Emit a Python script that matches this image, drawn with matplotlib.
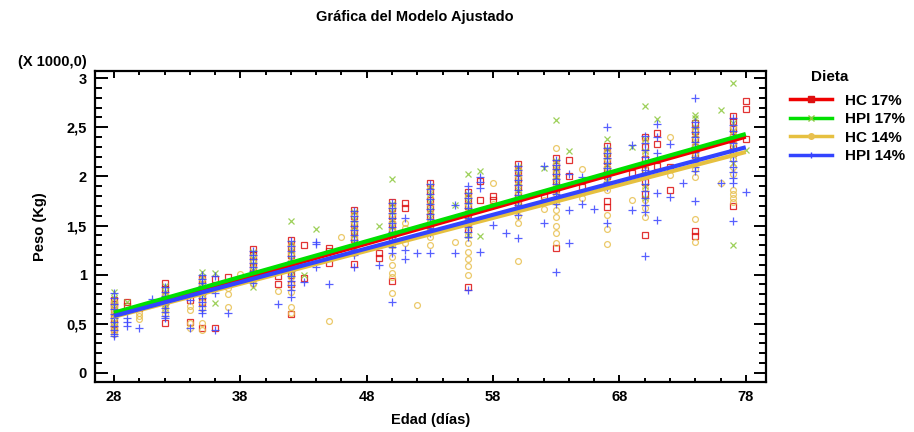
import matplotlib
matplotlib.use("Agg")
import matplotlib.pyplot as plt
from matplotlib.lines import Line2D
from matplotlib.ticker import MultipleLocator, FuncFormatter

plt.rcParams['font.family'] = ['Liberation Sans', 'DejaVu Sans']
plt.rcParams['font.weight'] = 'bold'

# ---------------- data (weights in g) ----------------
hc17_dias = [28, 29, 30, 32, 34, 35, 36, 37, 39, 41, 42, 43, 45, 47, 49, 50, 51, 53, 56, 57, 58, 60,
             62, 63, 64, 65, 67, 69, 70, 71, 72, 74, 77, 78]
hc17_pesos = [[740, 700, 680, 620, 560, 500, 450], [719, 685], [661], [915, 850, 780, 720, 509],
              [743, 522], [953, 900, 840, 780, 720, 458], [953, 455], [980],
              [1258, 1200, 1140, 1080, 1020], [987, 902], [1353, 1280, 1200, 1100, 1000, 900, 597],
              [1302, 970], [1270, 1240, 1116], [1658, 1600, 1520, 1440, 1360, 1109], [1217, 1167],
              [1743, 1680, 1600, 1520, 1440, 1360, 936], [1726, 1675],
              [1929, 1850, 1760, 1680, 1600, 1500], [1844, 1770, 1700, 1620, 1540, 1460, 872],
              [1956, 1760], [1801, 1760], [2126, 2050, 1970, 1890, 1810, 1730], [1801],
              [2184, 2110, 2030, 1950, 1870, 1275], [2167, 2004], [1895],
              [2309, 2240, 2160, 2080, 2000, 1750, 1692], [2031],
              [2400, 2300, 2180, 2060, 1940, 1820, 1404], [2438, 2326, 2106], [2099, 1862],
              [2540, 2460, 2380, 2300, 2220, 1445, 1394], [2610, 2560, 2480, 2400, 2320, 2240, 1699],
              [2767, 2682, 2380]]

hpi17_dias = [28, 29, 32, 35, 36, 39, 42, 43, 44, 47, 49, 50, 53, 55, 56, 57, 60, 62, 63, 64, 67,
              69, 70, 71, 74, 76, 77, 78]
hpi17_pesos = [[824, 760, 700, 640, 580, 520, 470], [719], [880, 820, 760, 700, 660],
               [1030, 980, 920, 860, 800], [1020, 709], [1230, 1170, 1110, 1050, 990, 878],
               [1549, 1320, 1240, 1160, 1080, 1000], [997], [1461],
               [1640, 1560, 1480, 1400, 1320, 1250], [1499],
               [1973, 1720, 1640, 1560, 1480, 1400, 1300], [1900, 1820, 1740, 1660, 1580, 1480],
               [1709], [2024, 1820, 1740, 1660, 1580, 1500, 1400], [2058, 1397],
               [2100, 2020, 1940, 1860, 1780, 1700], [2090], [2574, 2160, 2080, 2000, 1920, 1840],
               [2254], [2377, 2280, 2200, 2120, 2040, 1960], [2300],
               [2719, 2380, 2260, 2140, 2020, 1900, 1780], [2584],
               [2625, 2594, 2500, 2420, 2340, 2260, 2180], [2675],
               [2947, 2540, 2460, 2380, 2300, 2220, 2140, 1302], [2268]]

hc14_dias = [28, 30, 32, 34, 35, 37, 38, 39, 41, 42, 45, 46, 47, 50, 51, 52, 53, 55, 56, 58, 60,
             62, 63, 65, 67, 69, 70, 72, 74, 76, 77]
hc14_pesos = [[720, 680, 640, 600, 560, 510, 470, 430, 400], [610, 580, 550],
              [800, 760, 720, 680, 640, 600], [680, 640, 509, 458],
              [960, 900, 840, 780, 720, 660, 506, 437], [862, 804, 668], [1007],
              [1190, 1130, 1070, 1010, 950, 900], [834],
              [1300, 1220, 1140, 1060, 980, 900, 820, 671, 610], [532], [1380],
              [1620, 1540, 1460, 1380, 1300, 1220],
              [1700, 1620, 1540, 1460, 1380, 1300, 1183, 1100, 1020, 980, 811], [1529, 1478, 1319],
              [692], [1880, 1800, 1720, 1640, 1560, 1460, 1387, 1302], [1336],
              [1800, 1720, 1640, 1560, 1480, 1400, 1319, 1234, 1160, 1090, 997], [1936, 1719],
              [2080, 2000, 1920, 1840, 1760, 1680, 1600, 1523, 1139], [1760, 1665],
              [2292, 2140, 2060, 1980, 1900, 1820, 1740, 1658, 1590, 1500, 1420, 1319], [2072, 1777],
              [2260, 2180, 2100, 2020, 1940, 1862, 1607, 1461, 1312], [1760],
              [2360, 2240, 2120, 2000, 1880, 1760, 1680, 1590], [2404, 2014],
              [2480, 2400, 2320, 2240, 2160, 2080, 1997, 1564, 1336], [1930],
              [2500, 2420, 2340, 2260, 2180, 2100, 2020, 1862, 1820, 1780, 1743]]

hpi14_dias = [28, 29, 30, 31, 32, 34, 35, 36, 37, 39, 41, 42, 43, 44, 45, 47, 49, 50, 51, 52, 53,
              55, 56, 57, 58, 59, 60, 62, 63, 64, 65, 66, 67, 69, 70, 71, 72, 73, 74, 76, 77, 78]
hpi14_pesos = [[810, 760, 700, 650, 600, 560, 520, 480, 440, 400, 380], [563, 522, 481], [458],
               [753], [870, 820, 780, 740, 700, 660, 620, 580, 560], [743, 458],
               [1000, 960, 920, 880, 840, 800, 760, 720, 680, 640, 607], [987, 811, 437], [607],
               [1240, 1200, 1160, 1120, 1080, 1040, 1000, 960, 920], [699],
               [1340, 1290, 1240, 1190, 1140, 1090, 1040, 990, 940, 890, 840, 776], [929],
               [1336, 1312, 1081], [905],
               [1650, 1600, 1550, 1500, 1450, 1400, 1350, 1300, 1250, 1200, 1075], [1099],
               [1730, 1680, 1630, 1580, 1530, 1480, 1430, 1380, 1330, 1280, 1217, 725],
               [1580, 1251, 1157], [1217],
               [1920, 1870, 1820, 1770, 1720, 1670, 1620, 1570, 1520, 1470, 1420, 1224],
               [1709, 1217],
               [1905, 1830, 1780, 1730, 1680, 1630, 1580, 1530, 1480, 1430, 1380, 844],
               [1994, 1940, 1882, 1228], [1506], [1427],
               [2110, 2060, 2010, 1960, 1910, 1860, 1810, 1760, 1710, 1660, 1610, 1370],
               [2106, 1529], [2170, 2120, 2070, 2020, 1970, 1920, 1870, 1820, 1770, 1720, 1024],
               [2021, 1658, 1319], [1997, 1719], [1665],
               [2506, 2290, 2240, 2190, 2140, 2090, 2040, 1990, 1940, 1890, 1529], [2319, 1658],
               [2411, 2340, 2270, 2200, 2130, 2060, 1990, 1920, 1850, 1780, 1710, 1640, 1193],
               [2530, 2404, 2235, 1834, 1556], [2330, 1787], [1930],
               [2795, 2557, 2500, 2450, 2400, 2350, 2300, 2250, 2200, 2150, 2100, 2050, 1750],
               [1930],
               [2591, 2520, 2460, 2400, 2340, 2280, 2220, 2160, 2100, 2040, 1980, 1930, 1546],
               [1838]]

# fitted model lines (value at first and last age)
ajuste_dias = [28, 78]
hc17_ajuste = [590, 2404]
hpi17_ajuste = [613, 2431]
hc14_ajuste = [572, 2248]
hpi14_ajuste = [580, 2296]

etiquetas = ['HC 17%', 'HPI 17%', 'HC 14%', 'HPI 14%']
x_ticks = [28, 38, 48, 58, 68, 78]


def aplanar(dias, pesos):
    xs, ys = [], []
    for d, ps in zip(dias, pesos):
        for p in ps:
            xs.append(d)
            ys.append(p)
    return xs, ys


fig = plt.figure(figsize=(9.14, 4.32), dpi=100)
ax = fig.add_axes([95 / 914, 1 - 382 / 432, (766 - 95) / 914, (382 - 71) / 432])

pt_col = {'HC 17%': '#dd1010', 'HPI 17%': '#8cc83c', 'HC 14%': '#e8c050', 'HPI 14%': '#3a44ff'}
line_col = {'HC 17%': '#f00000', 'HPI 17%': '#00e000', 'HC 14%': '#e6c040', 'HPI 14%': '#3344ff'}

groups = [('HC 17%', hc17_dias, hc17_pesos, 's', 4.0, hc17_ajuste),
          ('HPI 17%', hpi17_dias, hpi17_pesos, 'x', 4.5, hpi17_ajuste),
          ('HC 14%', hc14_dias, hc14_pesos, 'o', 4.2, hc14_ajuste),
          ('HPI 14%', hpi14_dias, hpi14_pesos, '+', 5.5, hpi14_ajuste)]

for name, dias, pesos, mk, ms, _ in groups:
    xs, ys = aplanar(dias, pesos)
    if mk in ('s', 'o'):
        ax.plot(xs, ys, linestyle='none', marker=mk, markersize=ms, markerfacecolor='none',
                markeredgecolor=pt_col[name], markeredgewidth=0.9, alpha=0.85, zorder=2)
    else:
        ax.plot(xs, ys, linestyle='none', marker=mk, markersize=ms,
                color=pt_col[name], markeredgewidth=0.9, alpha=0.85, zorder=2)

# regression lines
for name in ['HC 17%', 'HC 14%', 'HPI 17%', 'HPI 14%']:
    fit = {g[0]: g[5] for g in groups}[name]
    ax.plot(ajuste_dias, fit, color=line_col[name], linewidth=3.0, solid_capstyle='butt', zorder=3)

ax.set_xlim(26.5, 79.6)
ax.set_ylim(-92, 3072)
ax.xaxis.set_major_locator(MultipleLocator(10))
ax.set_xticks(x_ticks)
ax.xaxis.set_minor_locator(MultipleLocator(2))
ax.yaxis.set_major_locator(MultipleLocator(500))
ax.yaxis.set_minor_locator(MultipleLocator(100))


def fmt_y(v, pos):
    s = f"{v / 1000:.1f}".rstrip('0').rstrip('.')
    return s.replace('.', ',')


ax.yaxis.set_major_formatter(FuncFormatter(fmt_y))
ax.tick_params(axis='both', which='both', direction='in', top=True, right=True, width=1.4,
               labelsize=10.5, colors='black')
ax.tick_params(axis='y', which='major', length=9, pad=6)
ax.tick_params(axis='y', which='minor', length=5)
ax.tick_params(axis='x', which='major', length=5, pad=6)
ax.tick_params(axis='x', which='minor', length=3)
for lab in ax.get_xticklabels() + ax.get_yticklabels():
    lab.set_fontweight('bold')
for sp in ax.spines.values():
    sp.set_linewidth(1.6)

ax.set_xlabel('Edad (días)', fontsize=10.5, fontweight='bold', labelpad=6)
ax.set_ylabel('Peso (Kg)', fontsize=10.5, fontweight='bold', labelpad=14)

fig.text(415 / 914, 1 - 17 / 432, 'Gráfica del Modelo Ajustado', ha='center', va='center',
         fontsize=10.5, fontweight='bold')
fig.text(52 / 914, 1 - 62 / 432, '(X 1000,0)', ha='center', va='center',
         fontsize=10.5, fontweight='bold')

# legend
fig.text(830 / 914, 1 - 77 / 432, 'Dieta', ha='center', va='center', fontsize=11, fontweight='bold')
handles = []
for name, dias, pesos, mk, ms, _ in groups:
    filled = mk in ('s', 'o')
    handles.append(Line2D([0], [0], color=line_col[name], linewidth=2.5, marker=mk,
                          markersize=4 if filled else 5, markerfacecolor=pt_col[name],
                          markeredgecolor=pt_col[name]))
leg = fig.legend(handles, etiquetas, loc='upper left', bbox_to_anchor=(782 / 914, 1 - 86 / 432),
                 frameon=False, handlelength=2.8, handletextpad=0.8, labelspacing=0.3,
                 borderpad=0, prop={'size': 11, 'weight': 'bold'})

fig.savefig('out.png', dpi=100)
